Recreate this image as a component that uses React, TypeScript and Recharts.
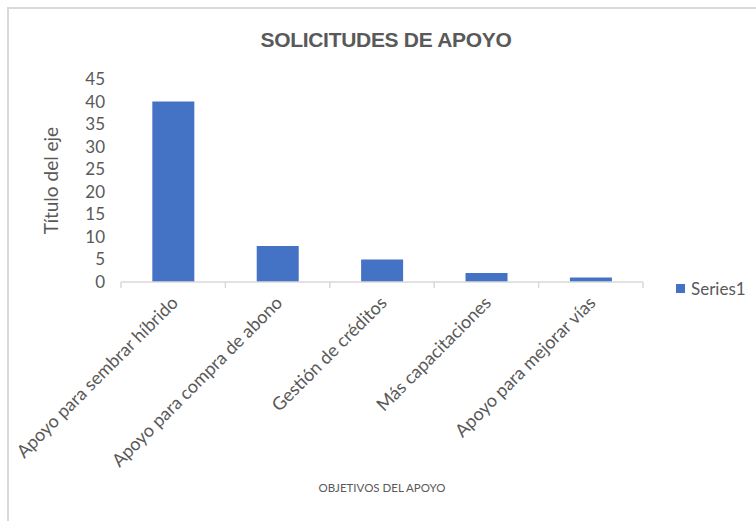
import React from 'react';
import { BarChart, Bar, XAxis, YAxis, Legend, Label } from 'recharts';

const categories = [
  'Apoyo para sembrar híbrido',
  'Apoyo para compra de abono',
  'Gestión de créditos',
  'Más capacitaciones',
  'Apoyo para mejorar vías',
];
const series1 = [40, 8, 5, 2, 1];
const yTicks = [0, 5, 10, 15, 20, 25, 30, 35, 40, 45];
const seriesName = 'Series1';
const chartTitle = 'SOLICITUDES DE APOYO';
const xTitle = 'OBJETIVOS DEL APOYO';
const yTitle = 'Título del eje';

const data = categories.map((c, i) => ({ name: c, value: series1[i] }));

const FONT = 'Lato, "Open Sans", sans-serif';
const TEXT = '#595959';
const AXIS = '#d9d9d9';
const BAR = '#4472C4';

const XTick = (props: any) => {
  const { x, y, payload, index, visibleTicksCount } = props;
  const half = payload.offset ?? 0;
  const tx = x + 1;
  const ty = y + 17;
  return (
    <g>
      <line x1={x - half} x2={x - half} y1={y} y2={y + 6} stroke={AXIS} strokeWidth={1.5} />
      {index === visibleTicksCount - 1 && (
        <line x1={x + half} x2={x + half} y1={y} y2={y + 6} stroke={AXIS} strokeWidth={1.5} />
      )}
      <text
        x={tx}
        y={ty}
        transform={`rotate(-45, ${tx}, ${ty})`}
        textAnchor="end"
        dominantBaseline="central"
        fill={TEXT}
        fontSize={18}
        fontFamily={FONT}
      >
        {payload.value}
      </text>
    </g>
  );
};

const YTitle = (props: any) => {
  const vb = props.viewBox || { x: 0, y: 0, width: 0, height: 0 };
  const cx = vb.x + 50;
  const cy = vb.y + vb.height / 2;
  return (
    <text
      x={cx}
      y={cy}
      transform={`rotate(-90, ${cx}, ${cy})`}
      textAnchor="middle"
      dominantBaseline="central"
      fill={TEXT}
      fontSize={19}
      fontFamily={FONT}
    >
      {yTitle}
    </text>
  );
};

const LegendContent = (props: any) => {
  const { payload } = props;
  return (
    <div>
      {(payload || []).map((p: any) => (
        <div key={p.value} style={{ display: 'flex', alignItems: 'center', fontFamily: FONT, fontSize: 17, color: TEXT }}>
          <span style={{ display: 'inline-block', width: 9, height: 9, background: p.color, marginRight: 6 }} />
          <span>{p.value}</span>
        </div>
      ))}
    </div>
  );
};

export default function App() {
  return (
    <div style={{ position: 'absolute', left: 0, top: 0, width: 756, height: 521, overflow: 'hidden', background: '#fff' }}>
      <div style={{ position: 'absolute', left: 7, top: 7, width: 760, height: 530, borderLeft: `2px solid ${AXIS}`, borderTop: `2px solid ${AXIS}` }} />
      <div
        style={{
          position: 'absolute',
          left: 0,
          width: 772,
          top: 27,
          textAlign: 'center',
          fontFamily: '"Liberation Sans", Arial, sans-serif',
          fontWeight: 'bold',
          fontSize: 21,
          letterSpacing: -0.3,
          color: TEXT,
          lineHeight: '26px',
        }}
      >
        {chartTitle}
      </div>
      <div style={{ position: 'absolute', left: 0, top: 0 }}>
        <BarChart
          width={756}
          height={521}
          data={data}
          margin={{ top: 79, right: 113, bottom: 0, left: 0 }}
          barCategoryGap="30%"
        >
          <XAxis
            dataKey="name"
            height={239}
            tickSize={0}
            tickMargin={0}
            tickLine={false}
            axisLine={{ stroke: AXIS, strokeWidth: 1.5 }}
            tick={<XTick />}
            interval={0}
          >
            <Label value={xTitle} position="insideBottom" offset={29} fill={TEXT} fontSize={11.5} fontFamily={FONT} />
          </XAxis>
          <YAxis
            width={121}
            domain={[0, 45]}
            ticks={yTicks}
            axisLine={false}
            tickLine={false}
            tickSize={0}
            tickMargin={16}
            tick={{ fill: TEXT, fontSize: 17, fontFamily: FONT }}
            interval={0}
          >
            <Label content={<YTitle />} />
          </YAxis>
          <Legend
            layout="vertical"
            align="center"
            verticalAlign="middle"
            content={<LegendContent />}
            wrapperStyle={{ position: 'absolute', left: 676, top: 278, width: 80, height: 24 }}
          />
          <Bar dataKey="value" name={seriesName} fill={BAR} isAnimationActive={false} />
        </BarChart>
      </div>
    </div>
  );
}
